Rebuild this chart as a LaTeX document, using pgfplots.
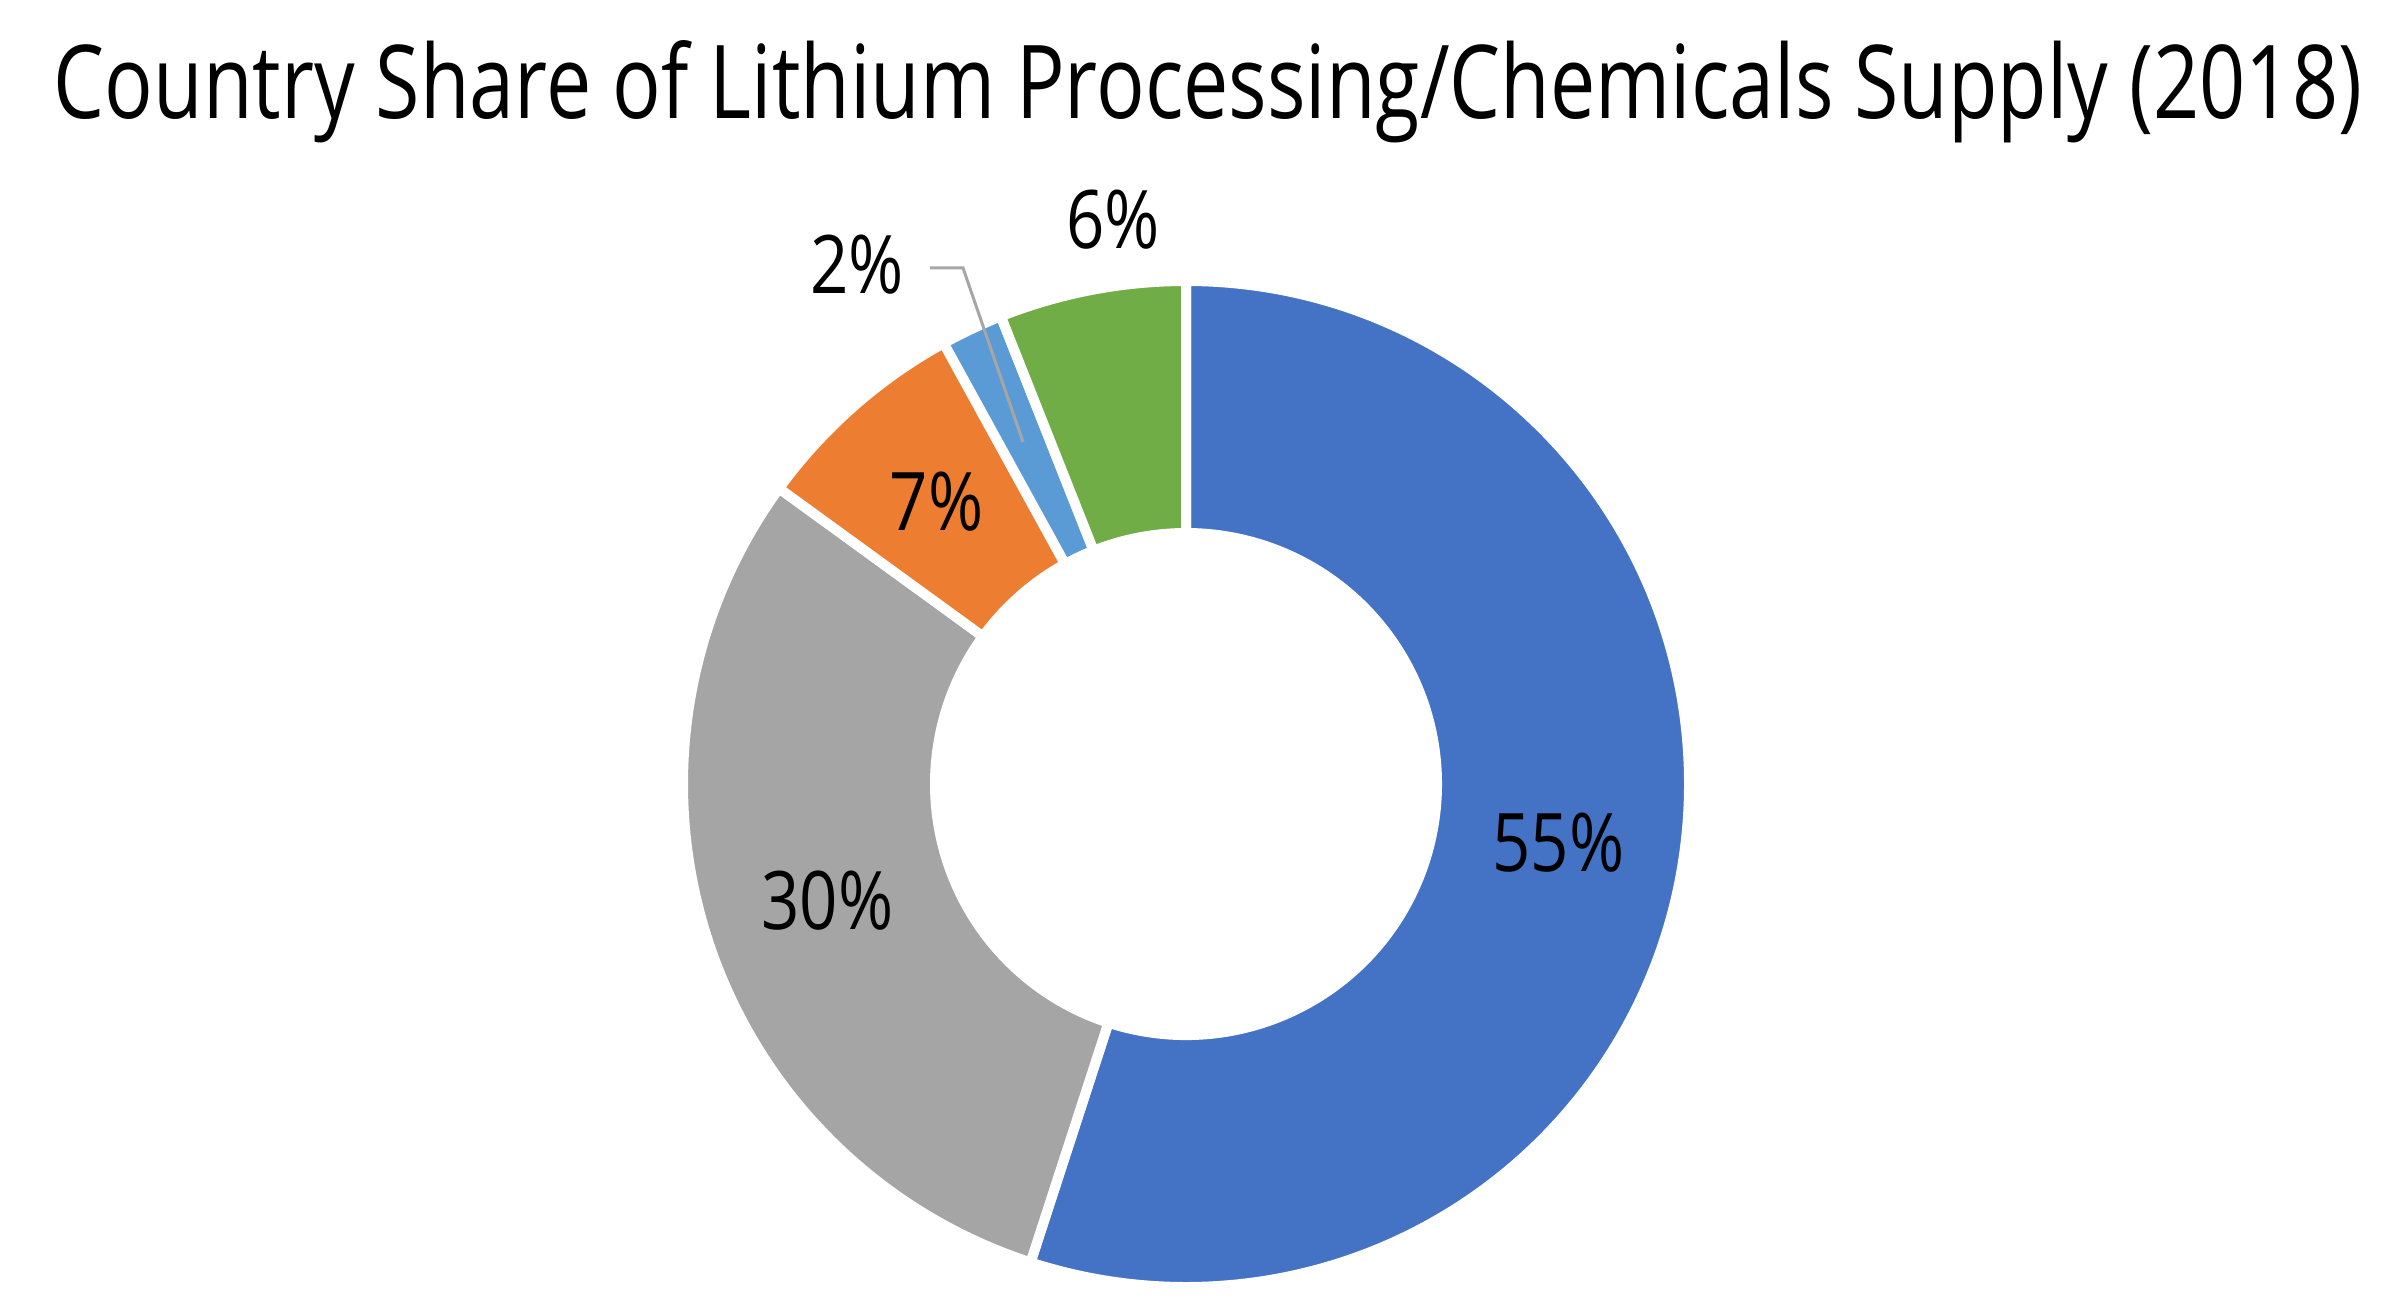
\documentclass[border=0pt]{standalone}
\usepackage{pgfplots}
\pgfplotsset{compat=1.18}
\usepackage{pgfplotstable}
\usepackage{graphicx}
\usepackage{fontspec}
\setmainfont{Open Sans}[FakeStretch=0.83]

\definecolor{cblue}{HTML}{4472C4}
\definecolor{cgray}{HTML}{A5A5A5}
\definecolor{corange}{HTML}{ED7D31}
\definecolor{clblue}{HTML}{5B9BD5}
\definecolor{cgreen}{HTML}{70AD47}
\definecolor{leader}{HTML}{A6A6A6}

% share of supply, clockwise from 12 o'clock
\pgfplotstableread{
share col
55 cblue
30 cgray
7 corange
2 clblue
6 cgreen
}\shares

% start / end / middle angle of every ring sector
\def\cumsum{0}
\pgfplotsforeachungrouped \i in {0,...,4}{%
  \pgfplotstablegetelem{\i}{share}\of\shares
  \let\val\pgfplotsretval
  \pgfmathsetmacro\sa{90-3.6*\cumsum}
  \pgfmathsetmacro\cumsum{\cumsum+\val}
  \pgfmathsetmacro\ea{90-3.6*\cumsum}
  \pgfmathsetmacro\ma{(\sa+\ea)/2}
  \expandafter\xdef\csname sa\i\endcsname{\sa}%
  \expandafter\xdef\csname ea\i\endcsname{\ea}%
  \expandafter\xdef\csname ma\i\endcsname{\ma}%
  \expandafter\xdef\csname v\i\endcsname{\val}%
  \pgfplotstablegetelem{\i}{col}\of\shares
  \colorlet{sec\i}{\pgfplotsretval}%
}

\newcommand\lbl{\fontsize{23}{27}\selectfont}

\begin{document}
\begin{tikzpicture}
\begin{axis}[
  scale only axis,
  width=23.97cm, height=13.10cm,
  xmin=0, xmax=2397, ymin=0, ymax=1310,
  y dir=reverse,
  hide axis,
  clip=false,
]
% whole canvas, so that the page keeps the reference's size
\path (axis cs:0,0) rectangle (axis cs:2397,1310);
\coordinate (C) at (axis cs:1186,784);
\pgfplotsinvokeforeach{0,...,4}{%
  \edef\tmp{\noexpand\filldraw[fill=sec#1, draw=white, line width=0.1cm, line join=miter]
    ([shift={(\csname sa#1\endcsname:5.03cm)}]C)
    arc[start angle=\csname sa#1\endcsname, end angle=\csname ea#1\endcsname, radius=5.03cm]
    -- ([shift={(\csname ea#1\endcsname:2.51cm)}]C)
    arc[start angle=\csname ea#1\endcsname, end angle=\csname sa#1\endcsname, radius=2.51cm]
    -- cycle;}\tmp
}
% labels inside the ring
\pgfplotsinvokeforeach{0,1,2}{%
  \edef\tmp{\noexpand\node[font=\noexpand\lbl, inner sep=0pt]
    at ([shift={(\csname ma#1\endcsname:3.77cm)}]C) {\csname v#1\endcsname\noexpand\%};}\tmp
}
% labels outside the ring
\node[font=\lbl, inner sep=0pt] at (axis cs:1113,220) {6\%};
\node[font=\lbl, inner sep=0pt] at (axis cs:857,265) {2\%};
\draw[leader, line width=0.03cm] (axis cs:930,268) -- (axis cs:963,268) -- (axis cs:1023,442);

\node[anchor=base, inner sep=0pt, font=\fontsize{29}{34}\selectfont] at (axis cs:1208,119)
  {\resizebox{23.08cm}{\height}{Country Share of Lithium Processing/Chemicals Supply (2018)}};
\end{axis}
\end{tikzpicture}
\end{document}
